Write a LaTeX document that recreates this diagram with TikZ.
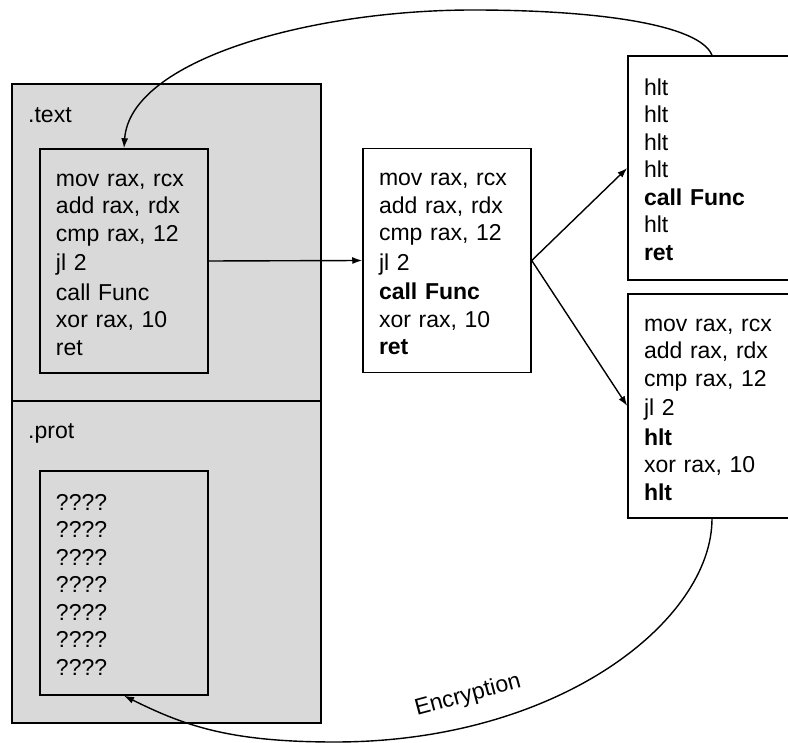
\documentclass[tikz,border=0pt]{standalone}
\usepackage{fontspec}
\setmainfont{Liberation Sans}
\usetikzlibrary{arrows.meta}
\definecolor{secgray}{HTML}{D9D9D9}
\newcommand\cl{\rule[-4pt]{0pt}{27.5pt}}
\begin{document}
\begin{tikzpicture}[x=1pt,y=-1pt,
  sect/.style={draw, fill=secgray, line width=1.5pt, minimum width=309pt, inner sep=0pt},
  codebox/.style={draw, line width=1.5pt, minimum width=168pt, minimum height=224pt,
    text width=136pt, inner xsep=16pt, inner ysep=0pt, align=left,
    font=\fontsize{23}{27.5}\selectfont},
  lbl/.style={font=\fontsize{23}{27.5}\selectfont, inner sep=0pt, anchor=west},
  conn/.style={line width=1.4pt, -{Latex[length=10pt,width=7pt]}}]
\useasboundingbox (0,0) rectangle (788,743);
\node[sect, minimum height=317pt] (textsec) at (166.5,242.5) {};
\node[sect, minimum height=322pt] (protsec) at (166.5,562) {};
\node[lbl] (textlbl) at (28,115) {.text};
\node[lbl] (protlbl) at (28,433) {.prot};
\node[codebox, fill=secgray] (code) at (124,261) {\cl mov rax, rcx\\\cl add rax, rdx\\\cl cmp rax, 12\\\cl jl 2\\\cl call Func\\\cl xor rax, 10\\\cl ret};
\node[codebox, fill=secgray] (prot) at (124,583) {\cl ????\\\cl ????\\\cl ????\\\cl ????\\\cl ????\\\cl ????\\\cl ????};
\node[codebox, fill=white] (mid) at (447,260.5) {\cl mov rax, rcx\\\cl add rax, rdx\\\cl cmp rax, 12\\\cl jl 2\\\cl \textbf{call Func}\\\cl xor rax, 10\\\cl \textbf{ret}};
\node[codebox, fill=white] (tr) at (712,168) {\cl hlt\\\cl hlt\\\cl hlt\\\cl hlt\\\cl \textbf{call Func}\\\cl hlt\\\cl \textbf{ret}};
\node[codebox, fill=white] (br) at (712,406) {\cl mov rax, rcx\\\cl add rax, rdx\\\cl cmp rax, 12\\\cl jl 2\\\cl \textbf{hlt}\\\cl xor rax, 10\\\cl \textbf{hlt}};
\draw[conn] (code.east) -- (mid.west);
\draw[conn] (mid.east) -- (tr.west);
\draw[conn] (mid.east) -- (br.west);
\draw[conn] (tr.north) .. controls (700,25) and (600,10) .. (473,10) .. controls (310,10) and (130,60) .. (code.north);
\draw[conn] (br.south) .. controls (712,620) and (560,742) .. (335,742) .. controls (230,742) and (185,726) .. (prot.south);
\node[font=\fontsize{23}{27.5}\selectfont, rotate=15, inner sep=0pt] (enc) at (468,695.5) {Encryption};
\end{tikzpicture}
\end{document}
